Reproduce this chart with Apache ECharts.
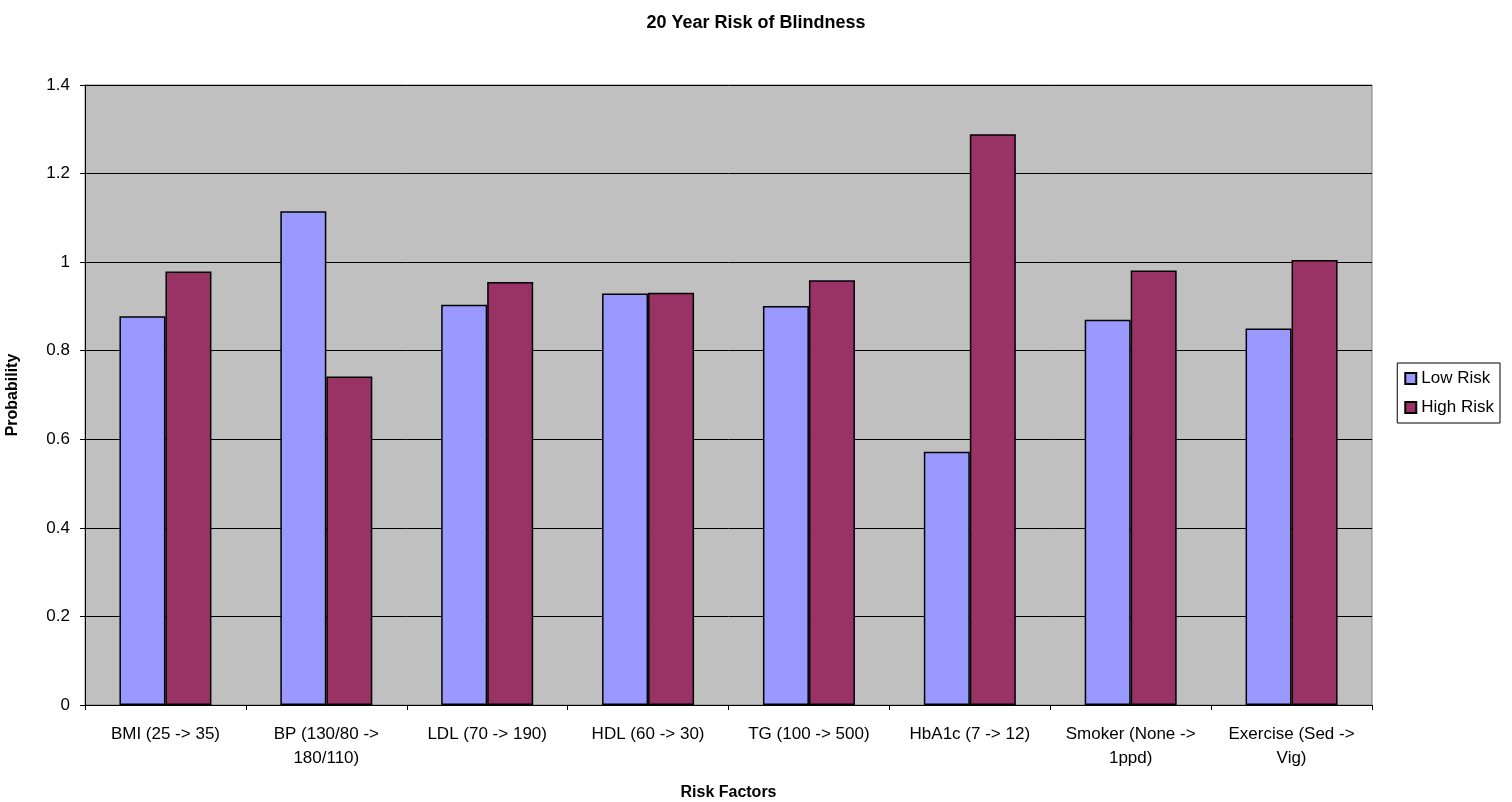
<!DOCTYPE html>
<html>
<head>
<meta charset="utf-8">
<script src="https://cdn.jsdelivr.net/npm/echarts@6/dist/echarts.min.js"></script>
<style>
html,body{margin:0;padding:0;background:#fff;}
#chart{width:1512px;height:802px;}
</style>
</head>
<body>
<div id="chart"></div>
<script>
// Risk factor categories (line breaks where the axis label wraps)
const categories = [
  'BMI (25 -> 35)',
  'BP (130/80 ->\n180/110)',
  'LDL (70 -> 190)',
  'HDL (60 -> 30)',
  'TG (100 -> 500)',
  'HbA1c (7 -> 12)',
  'Smoker (None ->\n1ppd)',
  'Exercise (Sed ->\nVig)'
];
const lowRisk  = [0.878, 1.115, 0.904, 0.929, 0.901, 0.572, 0.870, 0.850];
const highRisk = [0.979, 0.742, 0.955, 0.931, 0.959, 1.289, 0.981, 1.005];
const yTicks = [0, 0.2, 0.4, 0.6, 0.8, 1, 1.2, 1.4];

const font = 'Liberation Sans, Arial, sans-serif';
const chart = echarts.init(document.getElementById('chart'));
chart.setOption({
  animation: false,
  backgroundColor: '#ffffff',
  title: {
    text: '20 Year Risk of Blindness',
    left: 'center', top: 9,
    textStyle: { fontFamily: font, fontSize: 18, fontWeight: 'bold', color: '#000' }
  },
  legend: {
    orient: 'vertical',
    right: 12, top: 363,
    data: ['Low Risk', 'High Risk'],
    itemWidth: 11, itemHeight: 11, itemGap: 12,
    padding: [7, 6, 7, 7],
    borderColor: '#000', borderWidth: 1,
    icon: 'rect',
    textStyle: { fontFamily: font, fontSize: 17, color: '#000' }
  },
  grid: {
    left: 85, right: 140, top: 85, bottom: 97,
    outerBoundsMode: 'none', containLabel: false,
    show: true, backgroundColor: '#C0C0C0', borderColor: '#808080', borderWidth: 1
  },
  xAxis: {
    type: 'category',
    data: categories,
    name: 'Risk Factors',
    nameLocation: 'middle', nameGap: 80,
    nameTextStyle: { fontFamily: font, fontSize: 16, fontWeight: 'bold', color: '#000' },
    axisLine: { lineStyle: { color: '#000', width: 1 } },
    axisTick: { show: true, inside: false, length: 5, lineStyle: { color: '#000' } },
    axisLabel: { interval: 0, margin: 17, fontFamily: font, fontSize: 17, color: '#000', lineHeight: 24 }
  },
  yAxis: {
    type: 'value',
    min: 0, max: 1.4, interval: 0.2,
    name: 'Probability',
    nameLocation: 'middle', nameGap: 64,
    nameTextStyle: { fontFamily: font, fontSize: 16, fontWeight: 'bold', color: '#000' },
    axisLine: { show: true, lineStyle: { color: '#000', width: 1 } },
    axisTick: { show: true, length: 5, lineStyle: { color: '#000' } },
    axisLabel: {
      margin: 15, fontFamily: font, fontSize: 17, color: '#000',
      formatter: v => {
        const t = yTicks.find(x => Math.abs(x - v) < 1e-9);
        return t === undefined ? '' : String(t);
      }
    },
    splitLine: { show: true, lineStyle: { color: '#000', width: 1 } }
  },
  series: [
    {
      name: 'Low Risk', type: 'bar', data: lowRisk,
      barWidth: 46, barGap: '0%',
      itemStyle: { color: '#9999FF', borderColor: '#000', borderWidth: 1.5 }
    },
    {
      name: 'High Risk', type: 'bar', data: highRisk,
      barWidth: 46, barGap: '0%',
      itemStyle: { color: '#993366', borderColor: '#000', borderWidth: 1.5 }
    }
  ]
});
</script>
</body>
</html>
